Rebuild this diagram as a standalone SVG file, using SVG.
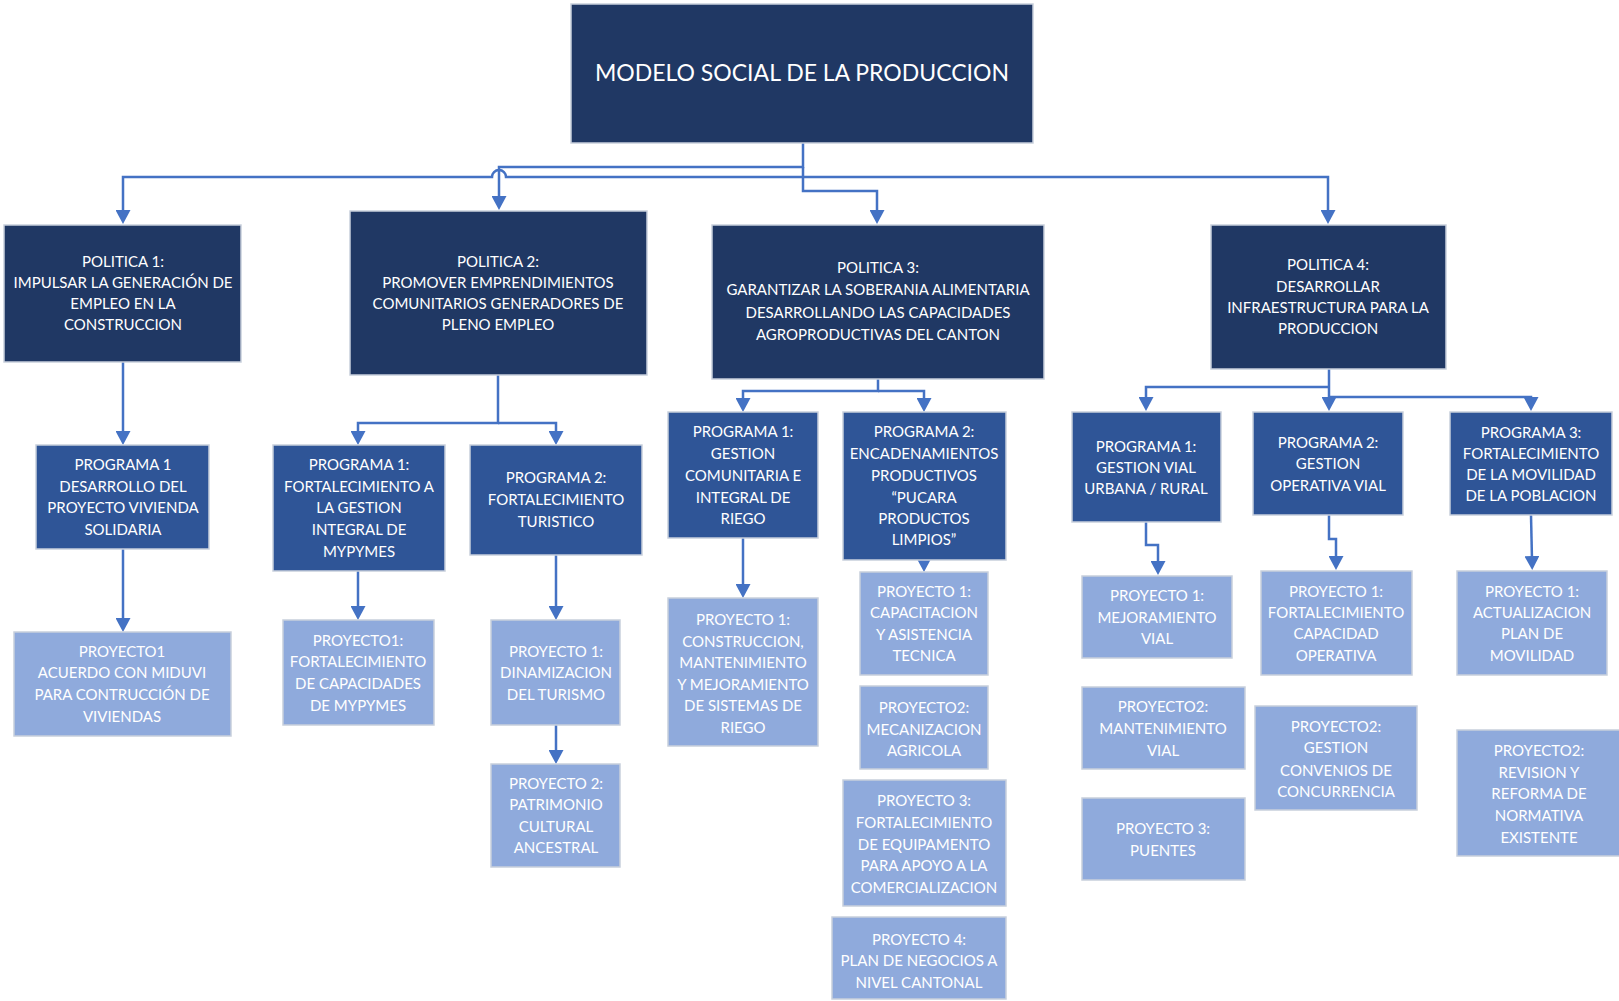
<svg xmlns="http://www.w3.org/2000/svg" width="1619" height="1001" viewBox="0 0 1619 1001">
<defs>
<marker id="ah" markerUnits="userSpaceOnUse" markerWidth="15" markerHeight="15" refX="4" refY="7.5" orient="auto">
<path d="M0,0 L14,7.5 L0,15 z" fill="#4472C4"/>
</marker>
<style>
.d{fill:#203864;stroke:#c8cfdc;stroke-width:1.5}
.m{fill:#2F5597;stroke:#c8cfdc;stroke-width:1.5}
.l{fill:#8FAADC;stroke:#c8cfdc;stroke-width:1.5}
text{font-family:Lato,"Liberation Sans",sans-serif;fill:#fff;text-anchor:middle;font-size:15px}
.big{font-size:23px}
.c{fill:none;stroke:#4472C4;stroke-width:2.5}
.c path{marker-end:url(#ah)}
</style>
</defs>
<rect width="1619" height="1001" fill="#fff"/>
<g id="connectors" class="c">
<path d="M803,143 V167 H499 V200"/>
<path d="M803,167 V191 H877 V214"/>
<path d="M803,177 H506 A7,7 0 0 0 492,177 H123 V214"/>
<path d="M803,177 H1328 V214"/>
<path d="M123,362 V435"/>
<path d="M123,549 V622"/>
<path d="M498,375 V423 H358 V435"/>
<path d="M498,423 H556 V435"/>
<path d="M358,571 V610"/>
<path d="M556,555 V610"/>
<path d="M556,725 V754"/>
<path d="M878,379 V391 H743 V402"/>
<path d="M878,391 H924 V402"/>
<path d="M743,538 V588"/>
<path d="M924,559 V562"/>
<path d="M1329,369 V401"/>
<path d="M1329,387 H1146 V401"/>
<path d="M1329,397 H1531 V401"/>
<path d="M1146,522 V545 H1158 V565"/>
<path d="M1329,515 V539 H1336 V560"/>
<path d="M1531,515 L1532,560"/>
</g>
<g id="root"><rect class="d" x="571" y="4" width="462" height="139"/>
<text class="big" x="802" y="81">MODELO SOCIAL DE LA PRODUCCION</text></g>
<g id="pol1"><rect class="d" x="4" y="225" width="237" height="137"/>
<text><tspan x="123" y="267">POLITICA 1:</tspan><tspan x="123" y="288">IMPULSAR LA GENERACIÓN DE</tspan><tspan x="123" y="309">EMPLEO EN LA</tspan><tspan x="123" y="330">CONSTRUCCION</tspan></text></g>
<g id="pol2"><rect class="d" x="350" y="211" width="297" height="164"/>
<text><tspan x="498" y="267">POLITICA 2:</tspan><tspan x="498" y="288">PROMOVER EMPRENDIMIENTOS</tspan><tspan x="498" y="309">COMUNITARIOS GENERADORES DE</tspan><tspan x="498" y="330">PLENO EMPLEO</tspan></text></g>
<g id="pol3"><rect class="d" x="712" y="225" width="332" height="154"/>
<text><tspan x="878" y="273">POLITICA 3:</tspan><tspan x="878" y="295">GARANTIZAR LA SOBERANIA ALIMENTARIA</tspan><tspan x="878" y="318">DESARROLLANDO LAS CAPACIDADES</tspan><tspan x="878" y="340">AGROPRODUCTIVAS DEL CANTON</tspan></text></g>
<g id="pol4"><rect class="d" x="1211" y="225" width="235" height="144"/>
<text><tspan x="1328" y="270">POLITICA 4:</tspan><tspan x="1328" y="292">DESARROLLAR</tspan><tspan x="1328" y="313">INFRAESTRUCTURA PARA LA</tspan><tspan x="1328" y="334">PRODUCCION</tspan></text></g>
<g id="prog1_1"><rect class="m" x="36" y="445" width="173" height="104"/>
<text><tspan x="123" y="470">PROGRAMA 1</tspan><tspan x="123" y="492">DESARROLLO DEL</tspan><tspan x="123" y="513">PROYECTO VIVIENDA</tspan><tspan x="123" y="535">SOLIDARIA</tspan></text></g>
<g id="proy1_1"><rect class="l" x="14" y="632" width="217" height="104"/>
<text><tspan x="122" y="657">PROYECTO1</tspan><tspan x="122" y="678">ACUERDO CON MIDUVI</tspan><tspan x="122" y="700">PARA CONTRUCCIÓN DE</tspan><tspan x="122" y="722">VIVIENDAS</tspan></text></g>
<g id="prog2_1"><rect class="m" x="273" y="445" width="172" height="126"/>
<text><tspan x="359" y="470">PROGRAMA 1:</tspan><tspan x="359" y="492">FORTALECIMIENTO A</tspan><tspan x="359" y="513">LA GESTION</tspan><tspan x="359" y="535">INTEGRAL DE</tspan><tspan x="359" y="557">MYPYMES</tspan></text></g>
<g id="prog2_2"><rect class="m" x="470" y="445" width="172" height="110"/>
<text><tspan x="556" y="483">PROGRAMA 2:</tspan><tspan x="556" y="505">FORTALECIMIENTO</tspan><tspan x="556" y="527">TURISTICO</tspan></text></g>
<g id="proy2_1_1"><rect class="l" x="283" y="620" width="151" height="105"/>
<text><tspan x="358" y="646">PROYECTO1:</tspan><tspan x="358" y="667">FORTALECIMIENTO</tspan><tspan x="358" y="689">DE CAPACIDADES</tspan><tspan x="358" y="711">DE MYPYMES</tspan></text></g>
<g id="proy2_2_1"><rect class="l" x="491" y="620" width="129" height="105"/>
<text><tspan x="556" y="657">PROYECTO 1:</tspan><tspan x="556" y="678">DINAMIZACION</tspan><tspan x="556" y="700">DEL TURISMO</tspan></text></g>
<g id="proy2_2_2"><rect class="l" x="491" y="764" width="129" height="103"/>
<text><tspan x="556" y="789">PROYECTO 2:</tspan><tspan x="556" y="810">PATRIMONIO</tspan><tspan x="556" y="832">CULTURAL</tspan><tspan x="556" y="853">ANCESTRAL</tspan></text></g>
<g id="prog3_1"><rect class="m" x="668" y="412" width="150" height="126"/>
<text><tspan x="743" y="437">PROGRAMA 1:</tspan><tspan x="743" y="459">GESTION</tspan><tspan x="743" y="481">COMUNITARIA E</tspan><tspan x="743" y="503">INTEGRAL DE</tspan><tspan x="743" y="524">RIEGO</tspan></text></g>
<g id="prog3_2"><rect class="m" x="843" y="412" width="163" height="148"/>
<text><tspan x="924" y="437">PROGRAMA 2:</tspan><tspan x="924" y="459">ENCADENAMIENTOS</tspan><tspan x="924" y="481">PRODUCTIVOS</tspan><tspan x="924" y="503">“PUCARA</tspan><tspan x="924" y="524">PRODUCTOS</tspan><tspan x="924" y="545">LIMPIOS”</tspan></text></g>
<g id="proy3_1_1"><rect class="l" x="668" y="598" width="150" height="148"/>
<text><tspan x="743" y="625">PROYECTO 1:</tspan><tspan x="743" y="647">CONSTRUCCION,</tspan><tspan x="743" y="668">MANTENIMIENTO</tspan><tspan x="743" y="690">Y MEJORAMIENTO</tspan><tspan x="743" y="711">DE SISTEMAS DE</tspan><tspan x="743" y="733">RIEGO</tspan></text></g>
<g id="proy3_2_1"><rect class="l" x="860" y="572" width="128" height="103"/>
<text><tspan x="924" y="597">PROYECTO 1:</tspan><tspan x="924" y="618">CAPACITACION</tspan><tspan x="924" y="640">Y ASISTENCIA</tspan><tspan x="924" y="661">TECNICA</tspan></text></g>
<g id="proy3_2_2"><rect class="l" x="860" y="686" width="128" height="83"/>
<text><tspan x="924" y="713">PROYECTO2:</tspan><tspan x="924" y="735">MECANIZACION</tspan><tspan x="924" y="756">AGRICOLA</tspan></text></g>
<g id="proy3_2_3"><rect class="l" x="843" y="780" width="163" height="126"/>
<text><tspan x="924" y="806">PROYECTO 3:</tspan><tspan x="924" y="828">FORTALECIMIENTO</tspan><tspan x="924" y="850">DE EQUIPAMENTO</tspan><tspan x="924" y="871">PARA APOYO A LA</tspan><tspan x="924" y="893">COMERCIALIZACION</tspan></text></g>
<g id="proy3_2_4"><rect class="l" x="832" y="917" width="174" height="82"/>
<text><tspan x="919" y="945">PROYECTO 4:</tspan><tspan x="919" y="966">PLAN DE NEGOCIOS A</tspan><tspan x="919" y="988">NIVEL CANTONAL</tspan></text></g>
<g id="prog4_1"><rect class="m" x="1072" y="412" width="149" height="110"/>
<text><tspan x="1146" y="452">PROGRAMA 1:</tspan><tspan x="1146" y="473">GESTION VIAL</tspan><tspan x="1146" y="494">URBANA / RURAL</tspan></text></g>
<g id="prog4_2"><rect class="m" x="1253" y="412" width="150" height="103"/>
<text><tspan x="1328" y="448">PROGRAMA 2:</tspan><tspan x="1328" y="469">GESTION</tspan><tspan x="1328" y="491">OPERATIVA VIAL</tspan></text></g>
<g id="prog4_3"><rect class="m" x="1450" y="412" width="162" height="103"/>
<text><tspan x="1531" y="438">PROGRAMA 3:</tspan><tspan x="1531" y="459">FORTALECIMIENTO</tspan><tspan x="1531" y="480">DE LA MOVILIDAD</tspan><tspan x="1531" y="501">DE LA POBLACION</tspan></text></g>
<g id="proy4_1_1"><rect class="l" x="1082" y="576" width="150" height="82"/>
<text><tspan x="1157" y="601">PROYECTO 1:</tspan><tspan x="1157" y="623">MEJORAMIENTO</tspan><tspan x="1157" y="644">VIAL</tspan></text></g>
<g id="proy4_1_2"><rect class="l" x="1082" y="687" width="163" height="82"/>
<text><tspan x="1163" y="712">PROYECTO2:</tspan><tspan x="1163" y="734">MANTENIMIENTO</tspan><tspan x="1163" y="756">VIAL</tspan></text></g>
<g id="proy4_1_3"><rect class="l" x="1082" y="798" width="163" height="82"/>
<text><tspan x="1163" y="834">PROYECTO 3:</tspan><tspan x="1163" y="856">PUENTES</tspan></text></g>
<g id="proy4_2_1"><rect class="l" x="1261" y="571" width="151" height="104"/>
<text><tspan x="1336" y="597">PROYECTO 1:</tspan><tspan x="1336" y="618">FORTALECIMIENTO</tspan><tspan x="1336" y="639">CAPACIDAD</tspan><tspan x="1336" y="661">OPERATIVA</tspan></text></g>
<g id="proy4_2_2"><rect class="l" x="1255" y="706" width="162" height="104"/>
<text><tspan x="1336" y="732">PROYECTO2:</tspan><tspan x="1336" y="753">GESTION</tspan><tspan x="1336" y="776">CONVENIOS DE</tspan><tspan x="1336" y="797">CONCURRENCIA</tspan></text></g>
<g id="proy4_3_1"><rect class="l" x="1457" y="571" width="150" height="104"/>
<text><tspan x="1532" y="597">PROYECTO 1:</tspan><tspan x="1532" y="618">ACTUALIZACION</tspan><tspan x="1532" y="639">PLAN DE</tspan><tspan x="1532" y="661">MOVILIDAD</tspan></text></g>
<g id="proy4_3_2"><rect class="l" x="1457" y="730" width="165" height="126"/>
<text><tspan x="1539" y="756">PROYECTO2:</tspan><tspan x="1539" y="778">REVISION Y</tspan><tspan x="1539" y="799">REFORMA DE</tspan><tspan x="1539" y="821">NORMATIVA</tspan><tspan x="1539" y="843">EXISTENTE</tspan></text></g>
</svg>
